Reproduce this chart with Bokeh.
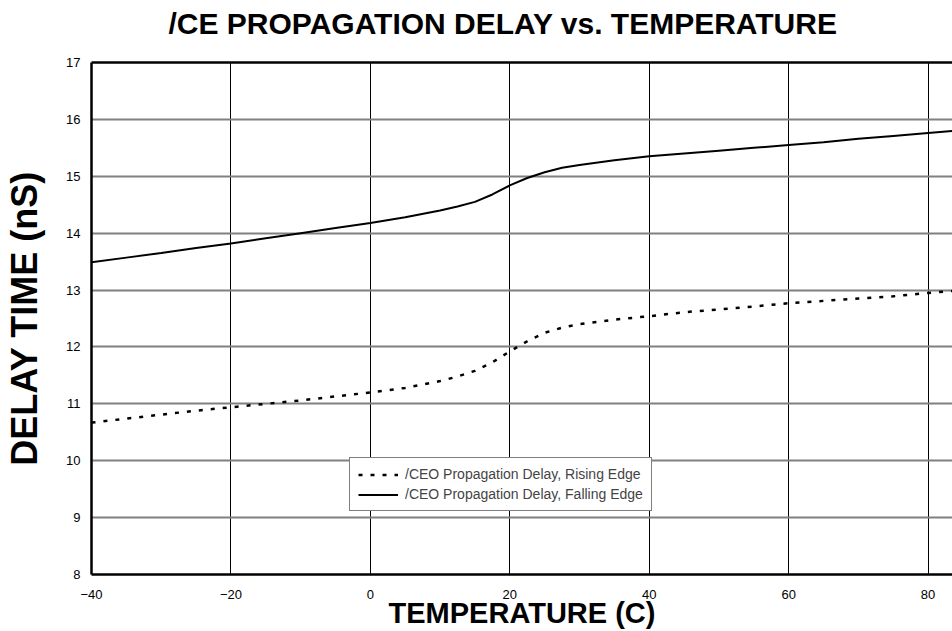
from bokeh.plotting import figure
from bokeh.models import Legend, LegendItem, FixedTicker, LinearAxis
from bokeh.embed import file_html
from bokeh.resources import INLINE

temps = [-40, -35, -30, -25, -20, -15, -10, -5, 0, 5, 10, 12.5, 15, 17.5, 20, 22.5,
         25, 27.5, 30, 35, 40, 45, 50, 55, 60, 65, 70, 75, 80, 85]
rising = [10.67, 10.74, 10.81, 10.88, 10.94, 11.00, 11.06, 11.13, 11.20, 11.28, 11.40,
          11.48, 11.58, 11.73, 11.92, 12.10, 12.25, 12.34, 12.40, 12.48, 12.54, 12.61,
          12.66, 12.71, 12.77, 12.81, 12.85, 12.89, 12.95, 13.00]
falling = [13.49, 13.57, 13.65, 13.74, 13.82, 13.91, 14.00, 14.09, 14.18, 14.28, 14.40,
           14.47, 14.55, 14.68, 14.84, 14.97, 15.07, 15.15, 15.20, 15.28, 15.35, 15.40,
           15.45, 15.50, 15.55, 15.60, 15.66, 15.71, 15.76, 15.81]
x_ticks = [-40, -20, 0, 20, 40, 60, 80]
y_ticks = [8, 9, 10, 11, 12, 13, 14, 15, 16, 17]
top_ticks = [-40]
title_text = "/CE PROPAGATION DELAY vs. TEMPERATURE"
x_label_text = "TEMPERATURE (C)"
y_label_text = "DELAY TIME (nS)"

FONT = "Liberation Sans"

p = figure(width=952, height=631, x_range=(-40, 83.5), y_range=(8, 17),
           output_backend="svg", toolbar_location=None,
           min_border_left=91, min_border_right=0, min_border_top=62,
           min_border_bottom=57)

p.outline_line_color = None
p.background_fill_color = "white"
p.border_fill_color = "white"

bx = p.below[0]
ly = p.left[0]

# top border line drawn by an axis with an invisible tick (also spaces the title)
top_axis = LinearAxis(ticker=FixedTicker(ticks=top_ticks), major_tick_out=23, major_tick_in=0,
                      major_tick_line_color=None, minor_tick_out=0, minor_tick_in=0,
                      minor_tick_line_color=None, major_label_text_font_size="0px",
                      major_label_text_alpha=0, major_label_standoff=0,
                      axis_line_color="black", axis_line_width=2.5)
p.add_layout(top_axis, "above")

p.title.text = title_text
p.title.text_font = FONT
p.title.text_font_size = "30px"
p.title.text_font_style = "bold"
p.title.text_color = "black"
p.title.align = "left"
p.title.offset = 77
p.title.standoff = 0

# axes
for ax in (bx, ly):
    ax.axis_line_color = "black"
    ax.axis_line_width = 2.5
    ax.major_tick_out = 0
    ax.major_tick_in = 0
    ax.minor_tick_out = 0
    ax.minor_tick_in = 0
    ax.major_tick_line_color = None
    ax.minor_tick_line_color = None
    ax.major_label_text_font = FONT
    ax.major_label_text_font_size = "13px"
    ax.major_label_text_color = "black"
    ax.axis_label_text_font = FONT
    ax.axis_label_text_font_style = "bold"
    ax.axis_label_text_color = "black"

bx.ticker = FixedTicker(ticks=x_ticks)
ly.ticker = FixedTicker(ticks=y_ticks)
bx.major_label_standoff = 15
ly.major_label_standoff = 11
bx.axis_label = x_label_text
bx.axis_label_text_font_size = "29px"
bx.axis_label_standoff = -5
ly.axis_label = y_label_text
ly.axis_label_text_font_size = "36px"
ly.axis_label_standoff = 18

# grids
p.xgrid.grid_line_color = "black"
p.xgrid.grid_line_width = 1
p.ygrid.grid_line_color = "#808080"
p.ygrid.grid_line_width = 2

r1 = p.line(temps, rising, line_color="black", line_width=2.5, line_dash="4 8")
r2 = p.line(temps, falling, line_color="black", line_width=2)

legend = Legend(items=[
    LegendItem(label="/CEO Propagation Delay, Rising Edge", renderers=[r1]),
    LegendItem(label="/CEO Propagation Delay, Falling Edge", renderers=[r2]),
], location=(258, 63))
legend.label_text_font = FONT
legend.label_text_font_size = "14px"
legend.label_standoff = 7
legend.glyph_width = 40
legend.glyph_height = 15
legend.label_height = 15
legend.spacing = 4
legend.padding = 8
legend.margin = 0
legend.border_line_color = "black"
legend.border_line_width = 1
legend.background_fill_alpha = 1
p.add_layout(legend, "center")

open("out.html", "w").write(file_html(p, INLINE))
